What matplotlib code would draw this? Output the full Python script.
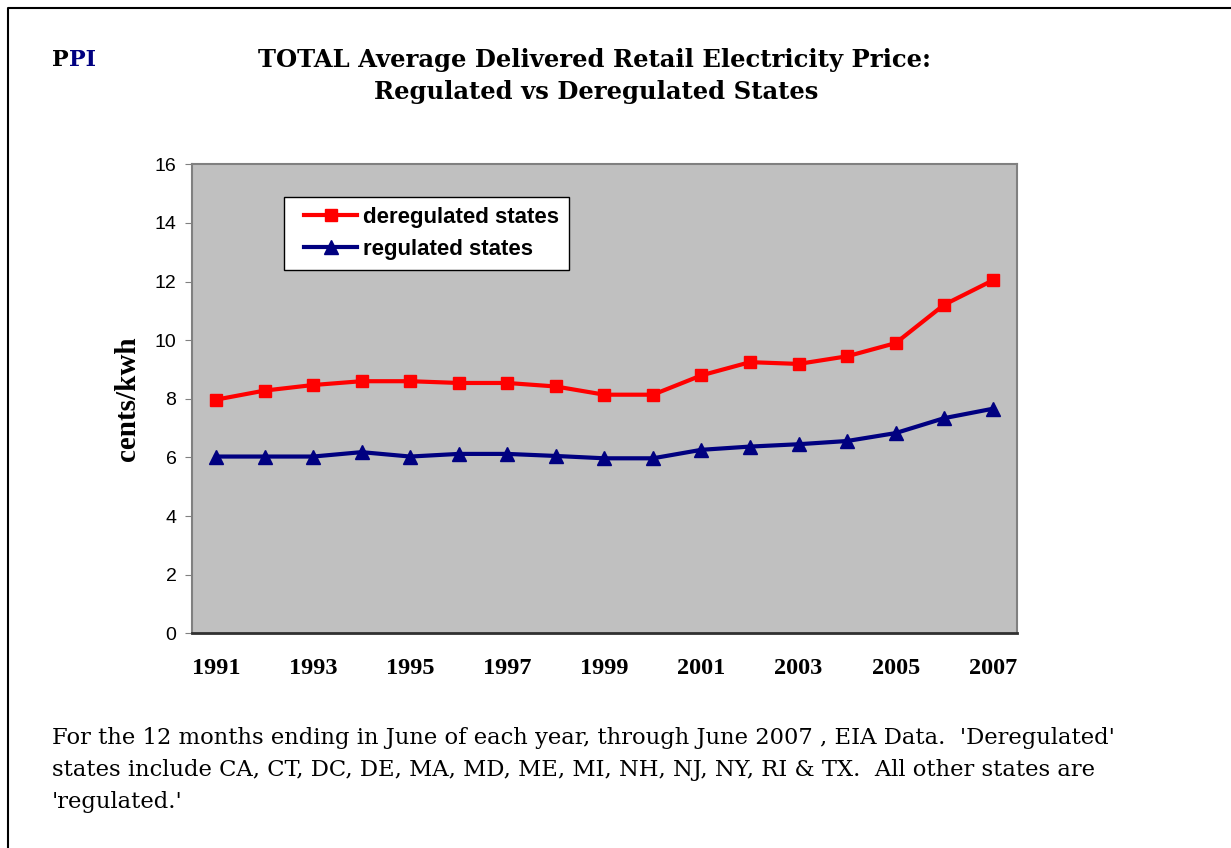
import numpy as np
import matplotlib
matplotlib.use('Agg')
import matplotlib.pyplot as plt
from matplotlib.lines import Line2D
from matplotlib.legend_handler import HandlerLine2D

years = ['1991', '1992', '1993', '1994', '1995', '1996', '1997', '1998', '1999',
         '2000', '2001', '2002', '2003', '2004', '2005', '2006', '2007']
dereg = [7.97, 8.28, 8.47, 8.60, 8.60, 8.54, 8.54, 8.42, 8.14,
         8.14, 8.80, 9.25, 9.19, 9.45, 9.90, 11.21, 12.04]
reg = [6.03, 6.03, 6.03, 6.18, 6.03, 6.12, 6.12, 6.05, 5.97,
       5.97, 6.26, 6.37, 6.45, 6.56, 6.83, 7.34, 7.66]

W, H = 1231, 848
fig = plt.figure(figsize=(W / 100, H / 100), dpi=100)
ax = fig.add_axes([191.7 / W, 1 - 633.3 / H, (1017 - 191.7) / W, (633.3 - 164.3) / H])

x = np.arange(len(years))
l1, = ax.plot(x, dereg, '-', color='#ff0000', lw=3, marker='s', ms=8,
              label='deregulated states')
l2, = ax.plot(x, reg, '-', color='#000080', lw=3, marker='^', ms=9.5,
              label='regulated states')

ax.set_facecolor('#c0c0c0')
ax.set_xlim(-0.5, len(years) - 0.5)
ax.set_ylim(0, 16)
ax.set_yticks(range(0, 17, 2))
ax.set_xticks(x[::2])
ax.set_xticklabels(years[::2], fontfamily='Liberation Serif', fontweight='bold',
                   fontsize=17.5)
ax.tick_params(axis='x', length=0, pad=18)
ax.tick_params(axis='y', length=5, color='#808080', labelsize=14, pad=6)
for lab in ax.get_yticklabels():
    lab.set_fontfamily('Liberation Sans')
for s in ['top', 'right', 'left']:
    ax.spines[s].set_color('#808080')
    ax.spines[s].set_linewidth(1.5)
ax.spines['bottom'].set_color('#303030')
ax.spines['bottom'].set_linewidth(2)

ax.set_ylabel('cents/kwh', fontfamily='Liberation Serif', fontweight='bold',
              fontsize=21, labelpad=10)

hmap = {l1: HandlerLine2D(xpad=0.45), l2: HandlerLine2D(xpad=0.45)}
leg = ax.legend(loc='upper left', bbox_to_anchor=(0.112, 0.931), frameon=True,
                fancybox=False, edgecolor='black', framealpha=1,
                prop={'family': 'Liberation Sans', 'weight': 'bold', 'size': 16},
                handlelength=2.85, borderpad=0.45, labelspacing=0.5,
                handletextpad=0.25, borderaxespad=0, handler_map=hmap)
leg.get_frame().set_linewidth(1)

# "P" in black followed by "PI" in navy
p = fig.text(52 / W, 1 - 60 / H, 'P', fontfamily='DejaVu Serif', fontweight='bold',
             fontsize=16, va='center', ha='left')
ax.annotate('PI', xy=(1, 0.5), xycoords=p, color='#000080',
            fontfamily='DejaVu Serif', fontweight='bold', fontsize=16,
            va='center', ha='left', annotation_clip=False)

fig.text(594 / W, 1 - 60 / H, 'TOTAL Average Delivered Retail Electricity Price:',
         fontfamily='DejaVu Serif', fontweight='bold', fontsize=17.5,
         ha='center', va='center')
fig.text(596 / W, 1 - 92 / H, 'Regulated vs Deregulated States',
         fontfamily='DejaVu Serif', fontweight='bold', fontsize=17.5,
         ha='center', va='center')

notes = ["For the 12 months ending in June of each year, through June 2007 , EIA Data.  'Deregulated'",
         "states include CA, CT, DC, DE, MA, MD, ME, MI, NH, NJ, NY, RI & TX.  All other states are",
         "'regulated.'"]
for i, line in enumerate(notes):
    fig.text(52 / W, 1 - (738 + 32 * i) / H, line, fontfamily='DejaVu Serif',
             fontsize=16.3, ha='left', va='center')

fig.add_artist(Line2D([8 / W, 8 / W, 1], [0, 1 - 8 / H, 1 - 8 / H],
                      transform=fig.transFigure, color='black', lw=1.5))

fig.savefig('out.png', dpi=100)
